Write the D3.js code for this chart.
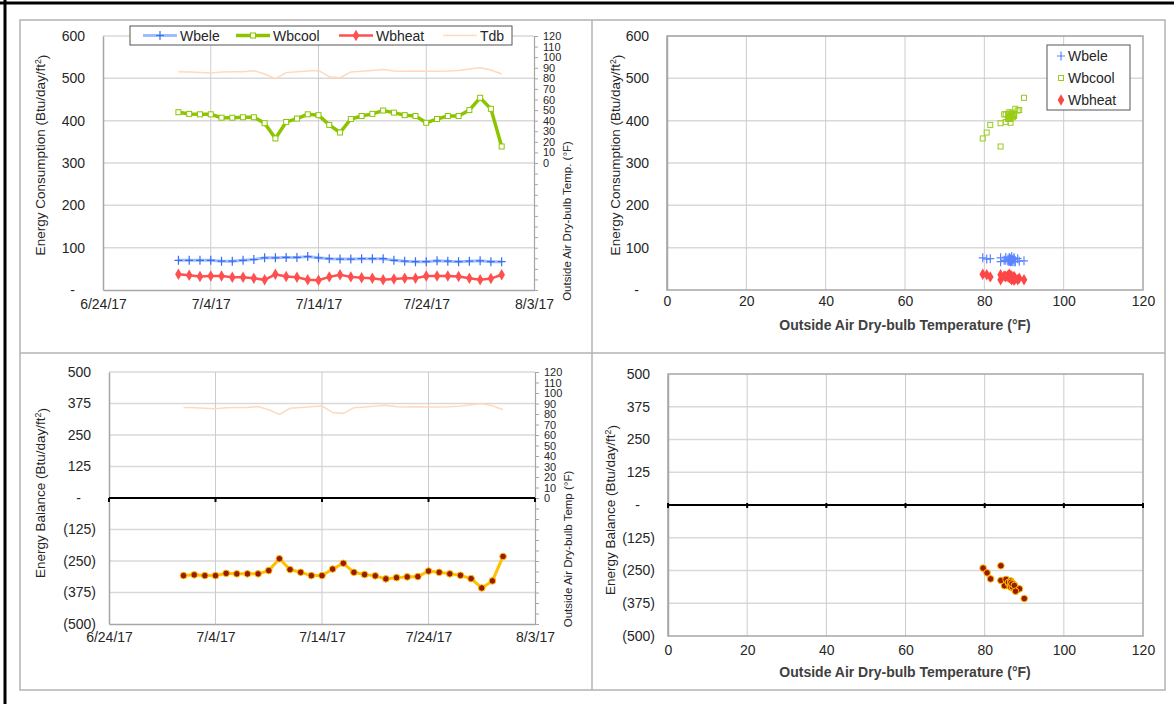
<!DOCTYPE html>
<html>
<head>
<meta charset="utf-8">
<script src="https://cdnjs.cloudflare.com/ajax/libs/d3/7.8.5/d3.min.js"></script>
<style>
  body { margin: 0; background: #fff; }
  text { font-family: "Liberation Sans", Arial, sans-serif; fill: #262626; }
</style>
</head>
<body>
<svg id="chart" width="1174" height="704"></svg>
<script>
// ---- data ----
var dateLabels = ["7/1/17","7/2/17","7/3/17","7/4/17","7/5/17","7/6/17","7/7/17","7/8/17","7/9/17","7/10/17",
  "7/11/17","7/12/17","7/13/17","7/14/17","7/15/17","7/16/17","7/17/17","7/18/17","7/19/17","7/20/17",
  "7/21/17","7/22/17","7/23/17","7/24/17","7/25/17","7/26/17","7/27/17","7/28/17","7/29/17","7/30/17","7/31/17"];
var wbele  = [70,70,70,70,68,68,70,72,76,76,77,77,79,76,74,73,73,74,74,74,70,68,67,67,69,68,67,68,69,67,67];
var wbcool = [420,416,415,415,407,407,408,408,394,358,397,405,415,413,390,372,404,411,416,424,419,413,411,395,404,411,411,425,454,428,339];
var wbheat = [37,35,32,33,33,30,30,28,24,37,32,30,24,23,31,36,31,29,28,24,26,28,28,33,33,33,32,28,24,27,36];
var tdb    = [86.3,86,85.4,85,86,86.3,86.3,87.2,84.1,79.6,85.4,86.3,86.9,87.5,81.5,80.6,86,86.6,87.5,88.4,86.9,86.6,87,86.6,86.6,86.9,87.5,88.8,90,87.8,84.1];
var balance = [-308,-305,-308,-308,-299,-301,-301,-301,-288,-241,-284,-295,-308,-308,-282,-259,-295,-304,-309,-321,-316,-313,-312,-290,-295,-301,-307,-320,-357,-329,-232];

var dateTicks = ["6/24/17","7/4/17","7/14/17","7/24/17","8/3/17"];
var consTicks = [0,100,200,300,400,500,600];
var balTicks = [-500,-375,-250,-125,0,125,250,375,500];
var tempTicks = [0,20,40,60,80,100,120];
var tdbTicks = [-120,-110,-100,-90,-80,-70,-60,-50,-40,-30,-20,-10,0,10,20,30,40,50,60,70,80,90,100,110,120];

var parseDate = d3.timeParse("%m/%d/%y");
var dates = dateLabels.map(parseDate);
var fmtDate = d3.timeFormat("%-m/%-d/%y");

var svg = d3.select("#chart");
var gridCol = "#d9d9d9", axisCol = "#a6a6a6";
var cBele = "#3a6df0", cBeleLine = "#9dbdff", cCool = "#8cc400", cHeat = "#ff5050", cTdb = "#ffd9bd";
var cBal = "#ffc000", cBalDot = "#9a1a00";

function acct(v) { return v === 0 ? "-" : (v < 0 ? "(" + (-v) + ")" : String(v)); }

// ---- frame ----
svg.append("rect").attr("x", 20).attr("y", 20).attr("width", 1145).attr("height", 670)
  .attr("fill", "none").attr("stroke", "#b3b3b3").attr("stroke-width", 1.5);
svg.append("line").attr("x1", 592).attr("x2", 592).attr("y1", 20).attr("y2", 690).attr("stroke", "#b3b3b3").attr("stroke-width", 1.5);
svg.append("line").attr("x1", 20).attr("x2", 1165).attr("y1", 353).attr("y2", 353).attr("stroke", "#b3b3b3").attr("stroke-width", 1.5);
svg.append("line").attr("x1", 0).attr("x2", 1174).attr("y1", 3).attr("y2", 3).attr("stroke", "#000").attr("stroke-width", 3);
svg.append("line").attr("x1", 5).attr("x2", 5).attr("y1", 0).attr("y2", 704).attr("stroke", "#000").attr("stroke-width", 3);

// marker helpers
function plusMark(sel, color) {
  sel.append("path").attr("d", "M-4,0H4M0,-4.5V4.5").attr("stroke", color).attr("stroke-width", 1.2).attr("fill", "none");
}
function squareMark(sel, color, fill) {
  sel.append("rect").attr("x", -2.5).attr("y", -2.5).attr("width", 5).attr("height", 5)
    .attr("fill", fill).attr("stroke", color).attr("stroke-width", 1);
}
function diamondMark(sel, color) {
  sel.append("path").attr("d", d3.symbol(d3.symbolDiamond, 38)).attr("fill", color);
}
function dotMark(sel) {
  sel.append("circle").attr("r", 3.3).attr("fill", cBalDot).attr("stroke", cBal).attr("stroke-width", 1);
}

function leftAxis(g, y, ticks, x0, fontSize) {
  var ax = g.append("g").attr("transform", "translate(" + x0 + ",0)")
    .call(d3.axisLeft(y).tickValues(ticks).tickSize(0).tickPadding(0).tickFormat(acct));
  ax.select(".domain").attr("stroke", axisCol).attr("stroke-width", 1.5);
  ax.selectAll("text").style("font-size", fontSize + "px").style("fill", "#262626")
    .attr("x", function(d) { return d === 0 ? -28 : (d < 0 ? -13 : -18); });
}

function tdbAxis(g, t, x1) {
  var ax = g.append("g").attr("transform", "translate(" + x1 + ",0)")
    .call(d3.axisRight(t).tickValues(tdbTicks).tickSize(4).tickPadding(5)
      .tickFormat(function(d) { return d >= 0 ? d : ""; }));
  ax.select(".domain").attr("stroke", axisCol).attr("stroke-width", 1.2);
  ax.selectAll("line").attr("stroke", axisCol);
  ax.selectAll("text").style("font-size", "11px").style("fill", "#262626");
}

function dateAxis(g, x, yb, baseline) {
  var ax = g.append("g").attr("transform", "translate(0," + yb + ")")
    .call(d3.axisBottom(x).tickValues(dateTicks.map(parseDate)).tickSize(0).tickPadding(baseline - 10).tickFormat(fmtDate));
  ax.select(".domain").attr("stroke", axisCol).attr("stroke-width", 1.5);
  ax.selectAll("text").style("font-size", "14px").style("fill", "#262626");
}

function tempAxis(g, x, yb, baseline) {
  var ax = g.append("g").attr("transform", "translate(0," + yb + ")")
    .call(d3.axisBottom(x).tickValues(tempTicks).tickSize(0).tickPadding(baseline - 10));
  ax.select(".domain").remove();
  ax.selectAll("text").style("font-size", "14px").style("fill", "#262626");
}

function yTitle(g, txt, cx, cy, size) {
  var t = g.append("text").attr("transform", "translate(" + cx + "," + cy + ") rotate(-90)")
    .attr("text-anchor", "middle").attr("dy", "0.35em").style("font-size", size + "px");
  t.append("tspan").text(txt);
  t.append("tspan").text("2").attr("dy", "-0.4em").style("font-size", (size * 0.65) + "px");
  t.append("tspan").text(")").attr("dy", "0.4em");
  return t;
}

// ================= Top-left: consumption time series =================
(function() {
  var g = svg.append("g");
  var x = d3.scaleTime().domain([parseDate("6/24/17"), parseDate("8/3/17")]).range([103, 534]);
  var y = d3.scaleLinear().domain([0, 600]).range([290, 36]);
  var t = d3.scaleLinear().domain([-120, 120]).range([290, 36]);

  g.selectAll(".hg").data(consTicks.filter(function(d) { return d > 0; })).enter().append("line")
    .attr("x1", 103).attr("x2", 534).attr("y1", y).attr("y2", y).attr("stroke", gridCol).attr("stroke-width", 1.5);
  g.selectAll(".vg").data(dateTicks.slice(1, 4).map(parseDate)).enter().append("line")
    .attr("x1", x).attr("x2", x).attr("y1", 36).attr("y2", 290).attr("stroke", "#cccccc");

  leftAxis(g, y, consTicks, 103, 14);
  dateAxis(g, x, 290, 19);
  tdbAxis(g, t, 534);

  var rows = dates.map(function(d, i) { return { date: d, ele: wbele[i], cool: wbcool[i], heat: wbheat[i], tdb: tdb[i] }; });

  g.append("path").datum(rows).attr("fill", "none").attr("stroke", cTdb).attr("stroke-width", 1.5)
    .attr("d", d3.line().x(function(d) { return x(d.date); }).y(function(d) { return t(d.tdb); }));
  g.append("path").datum(rows).attr("fill", "none").attr("stroke", cBeleLine).attr("stroke-width", 3)
    .attr("d", d3.line().x(function(d) { return x(d.date); }).y(function(d) { return y(d.ele); }));
  g.append("path").datum(rows).attr("fill", "none").attr("stroke", cHeat).attr("stroke-width", 2.5)
    .attr("d", d3.line().x(function(d) { return x(d.date); }).y(function(d) { return y(d.heat); }));
  g.append("path").datum(rows).attr("fill", "none").attr("stroke", cCool).attr("stroke-width", 3.5)
    .attr("d", d3.line().x(function(d) { return x(d.date); }).y(function(d) { return y(d.cool); }));

  g.selectAll(".pe").data(rows).enter().append("g")
    .attr("transform", function(d) { return "translate(" + x(d.date) + "," + y(d.ele) + ")"; })
    .call(plusMark, cBele);
  g.selectAll(".ph").data(rows).enter().append("g")
    .attr("transform", function(d) { return "translate(" + x(d.date) + "," + y(d.heat) + ")"; })
    .call(diamondMark, cHeat);
  g.selectAll(".pc").data(rows).enter().append("g")
    .attr("transform", function(d) { return "translate(" + x(d.date) + "," + y(d.cool) + ")"; })
    .call(squareMark, cCool, "#fff");

  yTitle(g, "Energy Consumption (Btu/day/ft", 40, 155, 13.5);
  g.append("text").attr("transform", "translate(567,221) rotate(-90)").attr("text-anchor", "middle")
    .attr("dy", "0.35em").style("font-size", "11.5px").text("Outside  Air Dry-bulb Temp. (\u00b0F)");

  // legend
  var lg = g.append("g");
  lg.append("rect").attr("x", 130).attr("y", 26).attr("width", 382).attr("height", 19)
    .attr("fill", "#fff").attr("stroke", "#555").attr("stroke-width", 1);
  var items = [
    { name: "Wbele", x: 143, col: cBeleLine, w: 3, mark: function(s) { plusMark(s, cBele); } },
    { name: "Wbcool", x: 236, col: cCool, w: 3.5, mark: function(s) { squareMark(s, cCool, "#fff"); } },
    { name: "Wbheat", x: 339, col: cHeat, w: 2.5, mark: function(s) { diamondMark(s, cHeat); } },
    { name: "Tdb", x: 443, col: cTdb, w: 1.5, mark: null }
  ];
  items.forEach(function(it) {
    lg.append("line").attr("x1", it.x).attr("x2", it.x + 34).attr("y1", 35.5).attr("y2", 35.5)
      .attr("stroke", it.col).attr("stroke-width", it.w);
    if (it.mark) it.mark(lg.append("g").attr("transform", "translate(" + (it.x + 17) + ",35.5)"));
    lg.append("text").attr("x", it.x + 37).attr("y", 40.5).style("font-size", "14px").text(it.name);
  });
})();

// ================= Top-right: consumption vs temperature =================
(function() {
  var g = svg.append("g");
  var x = d3.scaleLinear().domain([0, 120]).range([667, 1143]);
  var y = d3.scaleLinear().domain([0, 600]).range([290, 36]);

  g.selectAll(".hg").data(consTicks.filter(function(d) { return d > 0; })).enter().append("line")
    .attr("x1", 667).attr("x2", 1143).attr("y1", y).attr("y2", y).attr("stroke", gridCol).attr("stroke-width", 1.5);
  g.selectAll(".vg").data(tempTicks.slice(1, 6)).enter().append("line")
    .attr("x1", x).attr("x2", x).attr("y1", 36).attr("y2", 290).attr("stroke", "#cccccc");
  g.append("rect").attr("x", 667).attr("y", 36).attr("width", 476).attr("height", 254)
    .attr("fill", "none").attr("stroke", axisCol).attr("stroke-width", 1.5);

  leftAxis(g, y, consTicks, 667, 14);
  tempAxis(g, x, 290, 16);

  var pts = tdb.map(function(tv, i) { return { t: tv, ele: wbele[i], cool: wbcool[i], heat: wbheat[i] }; });
  g.selectAll(".se").data(pts).enter().append("g")
    .attr("transform", function(d) { return "translate(" + x(d.t) + "," + y(d.ele) + ")"; })
    .call(plusMark, "#5b84ff");
  g.selectAll(".sc").data(pts).enter().append("g")
    .attr("transform", function(d) { return "translate(" + x(d.t) + "," + y(d.cool) + ")"; })
    .call(squareMark, "#9acd1a", "none");
  g.selectAll(".sh").data(pts).enter().append("g")
    .attr("transform", function(d) { return "translate(" + x(d.t) + "," + y(d.heat) + ")"; })
    .call(diamondMark, "#ff4646");

  yTitle(g, "Energy Consumption (Btu/day/ft", 615, 155, 13.5);
  g.append("text").attr("x", 905).attr("y", 330).attr("text-anchor", "middle")
    .style("font-size", "14px").style("font-weight", "bold").style("fill", "#404040")
    .text("Outside Air Dry-bulb Temperature (\u00b0F)");

  var lg = g.append("g");
  lg.append("rect").attr("x", 1047).attr("y", 45).attr("width", 83).attr("height", 65)
    .attr("fill", "#fff").attr("stroke", "#555").attr("stroke-width", 1);
  var items = [
    { name: "Wbele", mark: function(s) { plusMark(s, "#5b84ff"); } },
    { name: "Wbcool", mark: function(s) { squareMark(s, "#9acd1a", "none"); } },
    { name: "Wbheat", mark: function(s) { diamondMark(s, "#ff4646"); } }
  ];
  items.forEach(function(it, i) {
    var yy = 56 + i * 22;
    it.mark(lg.append("g").attr("transform", "translate(1061," + yy + ")"));
    lg.append("text").attr("x", 1068).attr("y", yy + 5).style("font-size", "14px").text(it.name);
  });
})();

// ================= Bottom-left: energy balance time series =================
(function() {
  var g = svg.append("g");
  var x = d3.scaleTime().domain([parseDate("6/24/17"), parseDate("8/3/17")]).range([109, 535]);
  var y = d3.scaleLinear().domain([-500, 500]).range([624, 372]);
  var t = d3.scaleLinear().domain([-120, 120]).range([624, 372]);

  g.selectAll(".hg").data(balTicks.filter(function(d) { return d > -500; })).enter().append("line")
    .attr("x1", 109).attr("x2", 535).attr("y1", y).attr("y2", y).attr("stroke", gridCol).attr("stroke-width", 1.5);
  g.selectAll(".vg").data(dateTicks.slice(1, 4).map(parseDate)).enter().append("line")
    .attr("x1", x).attr("x2", x).attr("y1", 372).attr("y2", 624).attr("stroke", "#cccccc");

  leftAxis(g, y, balTicks, 109, 14);
  dateAxis(g, x, 624, 18);
  tdbAxis(g, t, 535);

  // zero line
  g.append("line").attr("x1", 109).attr("x2", 535).attr("y1", y(0)).attr("y2", y(0)).attr("stroke", "#000").attr("stroke-width", 2);
  g.selectAll(".zt").data(dateTicks.map(parseDate)).enter().append("line")
    .attr("x1", x).attr("x2", x).attr("y1", y(0)).attr("y2", y(0) + 4).attr("stroke", "#000").attr("stroke-width", 2);

  var rows = dates.map(function(d, i) { return { date: d, bal: balance[i], tdb: tdb[i] }; });
  g.append("path").datum(rows).attr("fill", "none").attr("stroke", cTdb).attr("stroke-width", 1.5)
    .attr("d", d3.line().x(function(d) { return x(d.date); }).y(function(d) { return t(d.tdb); }));
  g.append("path").datum(rows).attr("fill", "none").attr("stroke", cBal).attr("stroke-width", 3)
    .attr("d", d3.line().x(function(d) { return x(d.date); }).y(function(d) { return y(d.bal); }));
  g.selectAll(".pb").data(rows).enter().append("g")
    .attr("transform", function(d) { return "translate(" + x(d.date) + "," + y(d.bal) + ")"; })
    .call(dotMark);

  yTitle(g, "Energy Balance (Btu/day/ft", 40, 493, 13.5);
  g.append("text").attr("transform", "translate(568,549) rotate(-90)").attr("text-anchor", "middle")
    .attr("dy", "0.35em").style("font-size", "11.5px").text("Outside  Air Dry-bulb Temp (\u00b0F)");
})();

// ================= Bottom-right: energy balance vs temperature =================
(function() {
  var g = svg.append("g");
  var x = d3.scaleLinear().domain([0, 120]).range([668, 1143]);
  var y = d3.scaleLinear().domain([-500, 500]).range([636, 374]);

  g.selectAll(".hg").data(balTicks.filter(function(d) { return d > -500 && d < 500; })).enter().append("line")
    .attr("x1", 668).attr("x2", 1143).attr("y1", y).attr("y2", y).attr("stroke", gridCol).attr("stroke-width", 1.5);
  g.selectAll(".vg").data(tempTicks.slice(1, 6)).enter().append("line")
    .attr("x1", x).attr("x2", x).attr("y1", 374).attr("y2", 636).attr("stroke", "#cccccc");
  g.append("rect").attr("x", 668).attr("y", 374).attr("width", 475).attr("height", 262)
    .attr("fill", "none").attr("stroke", axisCol).attr("stroke-width", 1.5);

  leftAxis(g, y, balTicks, 668, 14);
  tempAxis(g, x, 636, 19);

  g.append("line").attr("x1", 668).attr("x2", 1143).attr("y1", y(0)).attr("y2", y(0)).attr("stroke", "#000").attr("stroke-width", 2);
  g.selectAll(".zt").data(tempTicks).enter().append("line")
    .attr("x1", x).attr("x2", x).attr("y1", y(0) - 2).attr("y2", y(0) + 3).attr("stroke", "#000").attr("stroke-width", 2);

  var pts = tdb.map(function(tv, i) { return { t: tv, bal: balance[i] }; });
  g.selectAll(".sb").data(pts).enter().append("g")
    .attr("transform", function(d) { return "translate(" + x(d.t) + "," + y(d.bal) + ")"; })
    .call(dotMark);

  yTitle(g, "Energy Balance (Btu/day/ft", 610, 510, 13.5);
  g.append("text").attr("x", 905).attr("y", 677).attr("text-anchor", "middle")
    .style("font-size", "14px").style("font-weight", "bold").style("fill", "#404040")
    .text("Outside Air Dry-bulb Temperature (\u00b0F)");
})();
</script>
</body>
</html>
